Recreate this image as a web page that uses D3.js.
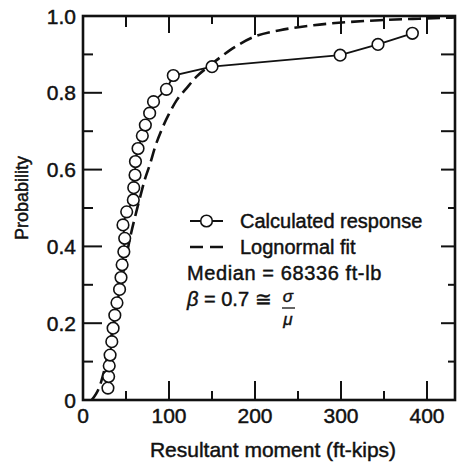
<!DOCTYPE html>
<html><head><meta charset="utf-8">
<script src="https://cdn.jsdelivr.net/npm/d3@7"></script>
<style>
html,body{margin:0;padding:0;background:#fff;}
svg{display:block;}
text{font-family:"Liberation Sans",Arial,sans-serif;fill:#111;stroke:#111;stroke-width:0.45px;}
</style></head>
<body>
<svg id="chart" width="466" height="464"></svg>
<script>
// Calculated response (moment in ft-kips, cumulative probability)
const respX = [29, 29.8, 30.5, 31.5, 33.5, 35, 37, 39.5, 42.5, 44.2, 45.5, 47.5, 48.5, 46.5, 50.8, 58.5, 59, 60.5, 61, 64, 69, 72.5, 77.5, 82, 97, 105, 150, 299, 343, 383];
const respP = [0.031, 0.061, 0.089, 0.117, 0.152, 0.187, 0.221, 0.253, 0.288, 0.319, 0.352, 0.386, 0.421, 0.456, 0.49, 0.521, 0.553, 0.586, 0.621, 0.655, 0.688, 0.716, 0.747, 0.777, 0.809, 0.845, 0.868, 0.898, 0.926, 0.955];
// Lognormal fit
const fitX = [10, 15, 20, 25, 30, 35, 40, 45, 50, 56, 62, 66, 72, 78, 84, 93, 100, 109, 120, 132, 148, 171, 198, 229, 268, 307, 345, 390, 432];
const fitP = [0, 0.015, 0.04, 0.08, 0.13, 0.19, 0.25, 0.31, 0.37, 0.435, 0.49, 0.525, 0.575, 0.615, 0.66, 0.712, 0.745, 0.781, 0.811, 0.842, 0.872, 0.911, 0.945, 0.963, 0.976, 0.984, 0.989, 0.993, 0.996];
const xTickLabels = [0, 100, 200, 300, 400];
const yTickLabels = ["0", "0.2", "0.4", "0.6", "0.8", "1.0"];
const yTickValues = [0, 0.2, 0.4, 0.6, 0.8, 1.0];
const legendLabels = ["Calculated response", "Lognormal fit", "Median = 68336 ft-lb"];

const svg = d3.select("#chart");
const L = 83, R = 455, T = 16, B = 400;
const x = d3.scaleLinear().domain([0, 400]).range([L, 427]);
const y = d3.scaleLinear().domain([0, 1]).range([B, T]);

const g = svg.append("g");

// ticks
const tk = g.append("g").attr("stroke", "#111").attr("stroke-width", 2);
d3.range(50, 450, 50).forEach(v => {
  const major = v % 100 === 0;
  tk.append("line").attr("x1", x(v)).attr("x2", x(v)).attr("y1", B).attr("y2", B - (major ? 19 : 9));
});
const topLen = {50: 11, 100: 17, 150: 8, 200: 19, 250: 10, 300: 18, 350: 13, 400: 18};
d3.range(50, 450, 50).forEach(v => {
  tk.append("line").attr("x1", x(v)).attr("x2", x(v)).attr("y1", T).attr("y2", T + topLen[v]);
});
d3.range(1, 10).forEach(i => {
  const v = i / 10;
  const major = i % 2 === 0;
  tk.append("line").attr("x1", L).attr("x2", L + (major ? 19 : 10)).attr("y1", y(v)).attr("y2", y(v));
});
d3.range(1, 10).forEach(i => {
  const v = i / 10;
  const short = (i === 1 || i === 3 || i === 5);
  tk.append("line").attr("x1", R).attr("x2", R - (short ? 7 : 14)).attr("y1", y(v)).attr("y2", y(v));
});

// frame
g.append("rect").attr("x", L).attr("y", T).attr("width", R - L).attr("height", B - T)
  .attr("fill", "none").attr("stroke", "#111").attr("stroke-width", 2.6);

// tick labels
g.selectAll(".xl").data(xTickLabels).enter().append("text")
  .attr("x", d => x(d)).attr("y", 423).attr("text-anchor", "middle")
  .attr("font-size", 21).text(d => d);
g.selectAll(".yl").data(yTickValues).enter().append("text")
  .attr("x", 76).attr("y", d => y(d) + 7.5).attr("text-anchor", "end")
  .attr("font-size", 21).text((d, i) => yTickLabels[i]);

// axis titles
g.append("text").attr("x", 273).attr("y", 457).attr("text-anchor", "middle")
  .attr("font-size", 21).text("Resultant moment (ft-kips)");
g.append("text").attr("transform", "translate(28,198) rotate(-90)").attr("text-anchor", "middle")
  .attr("font-size", 18).text("Probability");

// lognormal fit
const fitData = fitX.map((v, i) => [v, fitP[i]]);
g.append("path").datum(fitData)
  .attr("d", d3.line().x(d => x(d[0])).y(d => y(d[1])).curve(d3.curveMonotoneX))
  .attr("fill", "none").attr("stroke", "#111").attr("stroke-width", 2.6)
  .attr("stroke-dasharray", "13,6");

// calculated response
const respData = respX.map((v, i) => [v, respP[i]]);
g.append("path").datum(respData)
  .attr("d", d3.line().x(d => x(d[0])).y(d => y(d[1])))
  .attr("fill", "none").attr("stroke", "#111").attr("stroke-width", 1.8);
g.selectAll(".pt").data(respData).enter().append("circle")
  .attr("cx", d => x(d[0])).attr("cy", d => y(d[1])).attr("r", 5.8)
  .attr("fill", "#fff").attr("stroke", "#111").attr("stroke-width", 1.6);

// legend
const lg = g.append("g");
lg.append("line").attr("x1", 190).attr("x2", 223).attr("y1", 221).attr("y2", 221)
  .attr("stroke", "#111").attr("stroke-width", 1.8);
lg.append("circle").attr("cx", 206.5).attr("cy", 221).attr("r", 5.8)
  .attr("fill", "#fff").attr("stroke", "#111").attr("stroke-width", 1.6);
lg.append("text").attr("x", 240).attr("y", 228).attr("font-size", 20).text(legendLabels[0]);
lg.append("line").attr("x1", 190).attr("x2", 223).attr("y1", 247).attr("y2", 247)
  .attr("stroke", "#111").attr("stroke-width", 2.6).attr("stroke-dasharray", "13,7");
lg.append("text").attr("x", 240).attr("y", 254).attr("font-size", 20).text(legendLabels[1]);
lg.append("text").attr("x", 187).attr("y", 280).attr("font-size", 20).attr("letter-spacing", 0.6).text(legendLabels[2]);
const bt = lg.append("text").attr("x", 187).attr("y", 306).attr("font-size", 20);
bt.append("tspan").attr("font-style", "italic").text("β");
bt.append("tspan").text(" = 0.7 ≅");
lg.append("text").attr("x", 288).attr("y", 302).attr("font-size", 17).attr("text-anchor", "middle")
  .attr("font-style", "italic").attr("stroke-width", 0.2).text("σ");
lg.append("line").attr("x1", 282).attr("x2", 295).attr("y1", 308).attr("y2", 308)
  .attr("stroke", "#111").attr("stroke-width", 1.3);
lg.append("text").attr("x", 288).attr("y", 325).attr("font-size", 17).attr("text-anchor", "middle")
  .attr("font-style", "italic").attr("stroke-width", 0.2).text("μ");
</script>
</body></html>
